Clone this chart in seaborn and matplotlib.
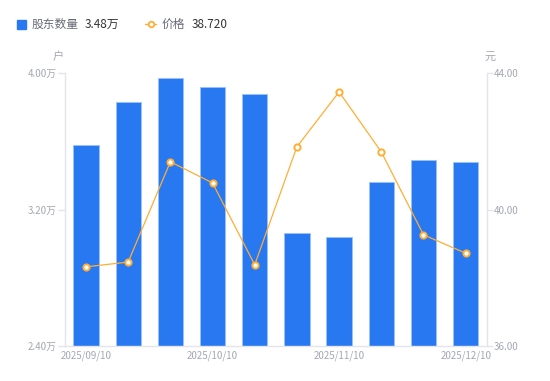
import numpy as np
import pandas as pd
import matplotlib
matplotlib.use("Agg")
import matplotlib.pyplot as plt
import seaborn as sns

# data
dates = ["2025/09/10", "2025/09/20", "2025/09/30", "2025/10/10", "2025/10/20",
         "2025/10/31", "2025/11/10", "2025/11/20", "2025/11/30", "2025/12/10"]
holders = [3.58, 3.83, 3.97, 3.92, 3.88, 3.06, 3.04, 3.36, 3.49, 3.48]   # 万户
price = [38.32, 38.46, 41.40, 40.78, 38.38, 41.84, 43.45, 41.69, 39.26, 38.72]
tick_dates = ["2025/09/10", "2025/10/10", "2025/11/10", "2025/12/10"]
left_ticks = [2.40, 3.20, 4.00]
right_ticks = [36.00, 40.00, 44.00]

df = pd.DataFrame({"date": dates, "holders": holders, "price": price})

sns.set_theme(style="white")
plt.rcParams["font.family"] = ["Noto Sans CJK SC", "DejaVu Sans"]

blue = "#2878F2"
orange = "#FFAE35"
gray_txt = "#A3A7B2"
dark_txt = "#333333"
axis_col = "#E3E5EA"

fig = plt.figure(figsize=(5.5, 3.81), dpi=100)
ax = fig.add_axes([0.118, 0.092, 0.767, 0.716])

sns.barplot(data=df, x="date", y="holders", color=blue, width=0.6,
            edgecolor="#9CC2FA", linewidth=0.6, saturation=1, ax=ax)
ax.set_ylim(left_ticks[0], left_ticks[-1])
ax.set_xlim(-0.5, len(dates) - 0.5)

ax2 = ax.twinx()
sns.lineplot(x=np.arange(len(dates)), y=df["price"], color=orange, linewidth=0.9,
             marker="o", markersize=4.5, markerfacecolor="white",
             markeredgecolor=orange, markeredgewidth=1.4, ax=ax2)
ax2.set_ylim(right_ticks[0], right_ticks[-1])
ax2.set_xlim(-0.5, len(dates) - 0.5)

# axes styling
for a in (ax, ax2):
    for s in a.spines.values():
        s.set_visible(False)
    a.set_xlabel("")
    a.set_ylabel("")
ax.spines["left"].set_visible(True)
ax.spines["left"].set_color(axis_col)
ax.spines["bottom"].set_visible(True)
ax.spines["bottom"].set_color(axis_col)
ax2.spines["right"].set_visible(True)
ax2.spines["right"].set_color(axis_col)
for s in ("left", "bottom", "right"):
    ax.spines[s].set_linewidth(1)
    ax2.spines[s].set_linewidth(1)

ax.set_yticks(left_ticks)
ax.set_yticklabels([f"{v:.2f}万" for v in left_ticks])
ax.tick_params(axis="y", length=5, width=1, color=axis_col, labelsize=7,
               labelcolor=gray_txt, pad=1, left=True)
ax2.set_yticks(right_ticks)
ax2.set_yticklabels([f"{v:.2f}" for v in right_ticks])
ax2.tick_params(axis="y", length=4, width=1, color=axis_col, labelsize=7,
                labelcolor=gray_txt, pad=1, right=True)

ax.set_xticks([dates.index(d) for d in tick_dates])
ax.set_xticklabels(tick_dates)
ax.tick_params(axis="x", length=0, labelsize=7, labelcolor=gray_txt, pad=3)

# unit labels
fig.text(58 / 550, 1 - 57 / 381, "户", fontsize=8, color=gray_txt, ha="center", va="center")
fig.text(490 / 550, 1 - 57 / 381, "元", fontsize=8, color=gray_txt, ha="center", va="center")

# custom legend with latest values
ly = 1 - 24 / 381
fig.patches.append(plt.Rectangle((17 / 550, ly - 4.5 / 381), 9 / 550, 9 / 381,
                                 transform=fig.transFigure, color=blue, figure=fig))
fig.text(32 / 550, ly, "股东数量", fontsize=8.5, color="#666A75", va="center")
fig.text(85 / 550, ly, f"{holders[-1]:.2f}万", fontsize=8.5, color=dark_txt, va="center")
fig.lines.append(plt.Line2D([145 / 550, 156 / 550], [ly, ly], transform=fig.transFigure,
                            color=orange, linewidth=1, marker="o", markersize=4,
                            markevery=[0], markerfacecolor="white",
                            markeredgecolor=orange, markeredgewidth=1.3))
fig.lines[-1].set_data([145 / 550, 150.5 / 550, 156 / 550], [ly, ly, ly])
fig.lines[-1].set_markevery([1])
fig.text(162 / 550, ly, "价格", fontsize=8.5, color="#666A75", va="center")
fig.text(192 / 550, ly, f"{price[-1]:.3f}", fontsize=8.5, color=dark_txt, va="center")

fig.savefig("out.png", dpi=100)
